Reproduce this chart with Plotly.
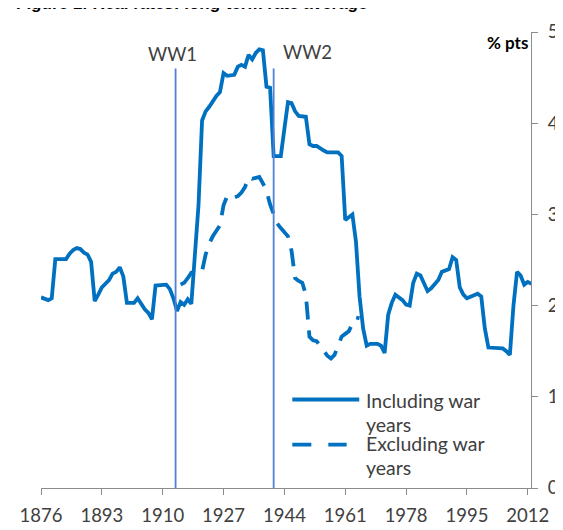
import plotly.graph_objects as go

# ---- data ----
years_incl = list(range(1876, 2014))
incl_war = [
    2.09, 2.07, 2.06, 2.08, 2.51, 2.51, 2.51, 2.51, 2.57, 2.61,   # 1876-1885
    2.63, 2.62, 2.58, 2.56, 2.48, 2.05, 2.12, 2.20, 2.24, 2.28,   # 1886-1895
    2.35, 2.37, 2.42, 2.32, 2.03, 2.03, 2.03, 2.08, 2.02, 1.96,   # 1896-1905
    1.92, 1.85, 2.22, 2.22, 2.22, 2.23, 2.18, 2.08, 1.94, 2.04,   # 1906-1915
    2.01, 2.07, 2.02, 2.50, 3.10, 4.03, 4.13, 4.18, 4.25, 4.30,   # 1916-1925
    4.34, 4.55, 4.52, 4.52, 4.53, 4.62, 4.64, 4.62, 4.75, 4.70,   # 1926-1935
    4.77, 4.81, 4.80, 4.40, 4.39, 3.64, 3.64, 3.64, 3.94, 4.23,   # 1936-1945
    4.22, 4.13, 4.08, 4.08, 4.07, 3.77, 3.75, 3.75, 3.72, 3.70,   # 1946-1955
    3.68, 3.68, 3.68, 3.68, 3.64, 2.94, 2.97, 3.00, 2.70, 2.10,   # 1956-1965
    1.75, 1.56, 1.58, 1.58, 1.58, 1.56, 1.48, 1.90, 2.03, 2.12,   # 1966-1975
    2.09, 2.06, 2.01, 2.00, 2.25, 2.35, 2.33, 2.25, 2.16, 2.19,   # 1976-1985
    2.23, 2.28, 2.37, 2.38, 2.40, 2.53, 2.50, 2.20, 2.12, 2.08,   # 1986-1995
    2.10, 2.12, 2.13, 2.10, 1.75, 1.54, 1.54, 1.54, 1.54, 1.53,   # 1996-2005
    1.50, 1.46, 2.00, 2.37, 2.33, 2.23, 2.26, 2.24,               # 2006-2013
]

years_excl = list(range(1915, 1966))
excl_war = [
    2.23, 2.25, 2.30, 2.36, 2.37, 2.37, 2.38, 2.56, 2.68, 2.76,   # 1915-1924
    2.82, 2.88, 3.10, 3.20, 3.17, 3.18, 3.20, 3.24, 3.30, 3.41,   # 1925-1934
    3.39, 3.40, 3.41, 3.34, 3.26, 3.11, 3.00, 2.90, 2.85, 2.80,   # 1935-1944
    2.76, 2.60, 2.30, 2.27, 2.25, 2.12, 1.66, 1.62, 1.61, 1.56,   # 1945-1954
    1.51, 1.45, 1.42, 1.46, 1.56, 1.66, 1.69, 1.72, 1.80, 1.87,   # 1955-1964
    1.86,                                                         # 1965
]

tick_years = [1876, 1893, 1910, 1927, 1944, 1961, 1978, 1995, 2012]
war_lines = {"WW1": 1913.6, "WW2": 1941.0}
series_names = ["Including war", "Excluding war"]

BLUE = "#0070C0"
LINE_BLUE = "#4F81D6"
TXT = "#404040"
AX = "#8C8C8C"
FONT = "Lato"

W, H = 563, 530
ML, MT = 28, 19
PW, PH = 505, 474

fig = go.Figure()
fig.add_trace(go.Scatter(x=years_incl, y=incl_war, mode="lines",
                         line=dict(color=BLUE, width=3.8), name=series_names[0] + " years",
                         showlegend=False))
fig.add_trace(go.Scatter(x=years_excl, y=excl_war, mode="lines",
                         line=dict(color=BLUE, width=3.8, dash="18px,11px"),
                         name=series_names[1] + " years", showlegend=False))

# war marker lines
for lbl, yr in war_lines.items():
    fig.add_shape(type="line", xref="x", yref="y", x0=yr, x1=yr, y0=0, y1=4.60,
                  line=dict(color=LINE_BLUE, width=1.8))
fig.add_annotation(x=war_lines["WW1"], y=4.60, xref="x", yref="y", text="WW1",
                   showarrow=False, xanchor="center", yanchor="bottom", xshift=-3, yshift=1,
                   font=dict(family=FONT, size=18.5, color=TXT))
fig.add_annotation(x=war_lines["WW2"], y=4.60, xref="x", yref="y", text="WW2",
                   showarrow=False, xanchor="left", yanchor="bottom", xshift=7, yshift=3,
                   font=dict(family=FONT, size=18.5, color=TXT))

# manual legend (reference pixel positions converted to paper coords)
def px(xp):
    return (xp - ML) / float(PW)
def py(yp):
    return (MT + PH - yp) / float(PH)

fig.add_shape(type="line", xref="paper", yref="paper", x0=px(287), x1=px(356),
              y0=py(401), y1=py(401), line=dict(color=BLUE, width=3.8))
fig.add_shape(type="line", xref="paper", yref="paper", x0=px(287), x1=px(343),
              y0=py(448), y1=py(448), line=dict(color=BLUE, width=3.8, dash="19px,17px"))
for txt, ypos in [("Including war", 402), ("years", 427), ("Excluding war", 447), ("years", 472)]:
    fig.add_annotation(x=px(361), y=py(ypos), xref="paper", yref="paper", text=txt,
                       showarrow=False, xanchor="left", yanchor="middle",
                       font=dict(family=FONT, size=19.5, color=TXT))

# "% pts" label
fig.add_annotation(x=1, y=1, xref="paper", yref="paper", text="<b>% pts</b>",
                   showarrow=False, xanchor="right", yanchor="middle", xshift=-1, yshift=-10,
                   font=dict(family=FONT, size=17, color="#000000"))

# partially cropped title at the very top (as in the reference)
fig.add_annotation(x=px(0), y=1, xref="paper", yref="paper",
                   text="<b>Figure 1: Real rates: long-term rate average</b>",
                   showarrow=False, xanchor="left", yanchor="bottom", yshift=17,
                   font=dict(family="Liberation Sans", size=17, color="#000000"))

fig.update_layout(
    width=W, height=H,
    margin=dict(l=ML, r=W - ML - PW, t=MT, b=H - MT - PH),
    paper_bgcolor="white", plot_bgcolor="white",
    font=dict(family=FONT, size=17, color=TXT),
    xaxis=dict(range=[1876, 2012.9], tickmode="array", tickvals=tick_years,
               ticktext=[str(t) for t in tick_years], showgrid=False, zeroline=False,
               showline=True, linecolor=AX, linewidth=1, ticks="outside", ticklen=6,
               tickcolor=AX, ticklabelstandoff=5, ticklabeloverflow="allow",
               tickfont=dict(family=FONT, size=18.5, color=TXT)),
    yaxis=dict(range=[0, 5], side="right", tickvals=[0, 1, 2, 3, 4, 5], showgrid=False,
               zeroline=False, showline=True, linecolor=AX, linewidth=1, ticks="outside",
               ticklen=6, tickcolor=AX, ticklabelstandoff=6, ticklabeloverflow="allow",
               tickfont=dict(family=FONT, size=18.5, color=TXT)),
)

fig.write_html("out.html")
